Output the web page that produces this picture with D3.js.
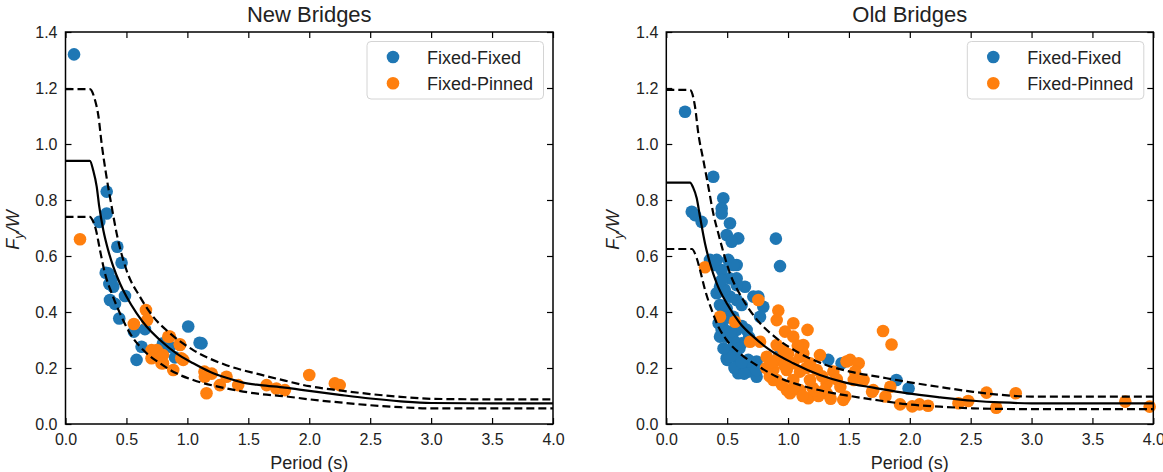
<!DOCTYPE html>
<html>
<head>
<meta charset="utf-8">
<script src="https://cdn.jsdelivr.net/npm/d3@7"></script>
<style>
  html, body { margin: 0; padding: 0; background: #fff; }
  svg { display: block; }
  text { font-family: "Liberation Sans", Arial, Helvetica, sans-serif; fill: #222; }
</style>
</head>
<body>
<svg id="chart" width="1163" height="472"></svg>
<script>
// ---------------- DATA ----------------
const xTicks = [0, 0.5, 1.0, 1.5, 2.0, 2.5, 3.0, 3.5, 4.0];
const yTicks = [0, 0.2, 0.4, 0.6, 0.8, 1.0, 1.2, 1.4];
const seriesNames = ["Fixed-Fixed", "Fixed-Pinned"];
const panelTitles = ["New Bridges", "Old Bridges"];

// New bridges — [period (s), Fy/W]
const newFixedFixed = [
  [0.07,1.32],[0.338,0.83],[0.338,0.752],[0.277,0.722],[0.425,0.633],[0.46,0.576],
  [0.351,0.538],[0.33,0.54],[0.378,0.514],[0.392,0.49],[0.36,0.5],[0.488,0.457],
  [0.365,0.443],[0.406,0.429],[0.441,0.377],[0.561,0.33],[0.652,0.339],[1.007,0.348],
  [1.116,0.288],[1.10,0.29],[0.624,0.276],[0.583,0.229],[0.857,0.276],[0.898,0.238],
  [0.80,0.288]
];
const newFixedPinned = [
  [0.119,0.66],[0.66,0.407],[0.67,0.371],[0.561,0.357],[0.843,0.312],[0.938,0.285],
  [0.706,0.264],[0.747,0.24],[0.788,0.217],[0.884,0.193],[0.966,0.229],[0.72,0.25],
  [0.75,0.264],[0.706,0.235],[0.80,0.246],[0.80,0.217],[0.95,0.235],[0.857,0.312],
  [0.94,0.282],[1.143,0.169],[1.157,0.11],[1.14,0.187],[1.20,0.18],[1.266,0.139],
  [1.321,0.169],[1.417,0.139],[1.65,0.139],[1.73,0.127],[1.80,0.121],[2.0,0.175],
  [2.21,0.145],[2.25,0.139]
];
// Old bridges
const oldFixedFixed = [
  [0.154,1.115],[0.386,0.883],[0.468,0.806],[0.455,0.77],[0.455,0.752],[0.523,0.717],
  [0.209,0.758],[0.236,0.746],[0.29,0.722],[0.496,0.675],[0.591,0.663],[0.537,0.651],
  [0.90,0.662],[0.934,0.564],[0.359,0.586],[0.40,0.568],[0.455,0.55],[0.509,0.586],
  [0.578,0.568],[0.578,0.52],[0.441,0.49],[0.646,0.49],[0.414,0.467],[0.523,0.455],
  [0.578,0.443],[0.756,0.455],[0.715,0.455],[0.441,0.425],[0.496,0.413],[0.619,0.425],
  [0.797,0.419],[0.455,0.383],[0.55,0.383],[0.77,0.383],[0.468,0.342],[0.441,0.312],
  [0.578,0.336],[0.619,0.288],[0.523,0.264],[0.496,0.235],[0.578,0.24],[0.673,0.229],
  [0.742,0.223],[0.591,0.181],[0.673,0.187],[0.742,0.169],[0.93,0.246],[1.33,0.229],
  [1.44,0.217],[1.89,0.157],[1.99,0.127],[0.5,0.229],[0.55,0.3],[0.62,0.35],
  [0.68,0.31],[0.48,0.48],[0.52,0.52],[0.455,0.514],[0.414,0.586],[0.578,0.496],
  [0.55,0.568],[0.455,0.336],[0.496,0.312],[0.66,0.336],[0.523,0.24],[0.687,0.223],
  [0.742,0.193],[0.43,0.36],[0.5,0.38],[0.53,0.33],[0.47,0.27],[0.6,0.27],
  [0.56,0.2],[0.64,0.18],[0.62,0.22]
];
const oldFixedPinned = [
  [0.318,0.56],[0.756,0.443],[0.441,0.383],[0.564,0.365],[0.92,0.405],[0.907,0.371],
  [1.043,0.36],[1.16,0.336],[0.975,0.33],[1.043,0.312],[0.688,0.294],[0.77,0.294],
  [0.907,0.282],[1.125,0.282],[0.961,0.264],[1.125,0.252],[1.262,0.246],[0.825,0.24],
  [0.907,0.229],[1.043,0.217],[1.18,0.217],[0.879,0.193],[0.989,0.193],[1.098,0.187],
  [1.235,0.193],[1.372,0.187],[1.48,0.223],[0.907,0.157],[1.043,0.157],[1.18,0.157],
  [1.317,0.145],[0.989,0.121],[1.098,0.121],[1.166,0.092],[1.30,0.121],[1.43,0.133],
  [1.47,0.098],[1.454,0.086],[1.317,0.11],[1.016,0.11],[0.879,0.157],[1.78,0.332],
  [1.85,0.284],[1.84,0.133],[1.92,0.07],[2.02,0.063],[2.08,0.07],[2.15,0.065],
  [2.40,0.074],[2.48,0.082],[2.63,0.112],[2.71,0.058],[2.87,0.11],[3.77,0.08],
  [3.97,0.062],[1.70,0.121],[1.80,0.098],[1.51,0.229],[1.58,0.217],[1.55,0.187],
  [1.54,0.157],[1.62,0.157],[1.69,0.115],[0.82,0.2],[0.85,0.17],[1.0,0.25],
  [1.2,0.13],[1.1,0.24],[0.95,0.14],[1.05,0.13],[1.12,0.1],[1.25,0.1],[1.35,0.09],
  [1.4,0.16],[0.86,0.22],[0.97,0.21],[1.15,0.2],[1.28,0.17],[1.08,0.28],[1.22,0.12]
];

// Fitted curves — [period (s), Fy/W]
const newMedian = [
  [0,0.94],[0.2,0.94],[0.228,0.905],[0.256,0.848],[0.277,0.776],[0.31,0.693],[0.35,0.621],
  [0.392,0.562],[0.447,0.502],[0.5,0.455],[0.584,0.395],[0.665,0.348],[0.775,0.3],
  [0.91,0.252],[1.048,0.217],[1.184,0.187],[1.32,0.165],[1.457,0.148],[1.6,0.139],
  [1.8,0.13],[2.0,0.118],[2.25,0.104],[2.5,0.091],[2.75,0.081],[3.0,0.075],[3.5,0.074],[4.0,0.074]
];
const newUpper = [
  [0,1.196],[0.2,1.196],[0.242,1.157],[0.27,1.1],[0.297,1.0],[0.332,0.895],[0.379,0.776],
  [0.42,0.68],[0.5,0.55],[0.61,0.455],[0.72,0.383],[0.857,0.324],[1.048,0.264],
  [1.32,0.21],[1.594,0.177],[1.8,0.155],[2.0,0.135],[2.25,0.12],[2.5,0.107],[2.75,0.097],
  [3.0,0.09],[3.5,0.088],[4.0,0.088]
];
const newLower = [
  [0,0.74],[0.2,0.74],[0.225,0.725],[0.25,0.693],[0.283,0.621],[0.324,0.538],[0.379,0.467],
  [0.447,0.395],[0.529,0.324],[0.638,0.264],[0.775,0.217],[0.91,0.181],[1.048,0.157],
  [1.32,0.127],[1.6,0.107],[1.8,0.099],[2.0,0.088],[2.25,0.077],[2.5,0.067],[2.75,0.06],
  [3.0,0.056],[3.5,0.056],[4.0,0.056]
];
const oldMedian = [
  [0,0.862],[0.195,0.862],[0.22,0.845],[0.25,0.806],[0.277,0.74],[0.318,0.645],[0.359,0.574],
  [0.414,0.502],[0.496,0.431],[0.605,0.36],[0.715,0.312],[0.852,0.264],[1.043,0.217],
  [1.262,0.175],[1.48,0.147],[1.7,0.13],[1.97,0.11],[2.25,0.095],[2.52,0.083],[2.75,0.077],
  [3.0,0.074],[3.5,0.074],[4.0,0.074]
];
const oldUpper = [
  [0,1.193],[0.195,1.193],[0.236,1.133],[0.263,1.038],[0.304,0.943],[0.345,0.848],
  [0.386,0.752],[0.427,0.681],[0.523,0.538],[0.632,0.443],[0.77,0.36],[0.907,0.306],
  [1.098,0.252],[1.317,0.21],[1.509,0.187],[1.75,0.168],[1.97,0.151],[2.25,0.132],
  [2.52,0.115],[2.75,0.104],[3.0,0.098],[3.5,0.098],[4.0,0.098]
];
const oldLower = [
  [0,0.625],[0.209,0.625],[0.25,0.592],[0.277,0.55],[0.318,0.479],[0.373,0.407],
  [0.427,0.348],[0.496,0.3],[0.605,0.252],[0.742,0.21],[0.907,0.169],[1.098,0.139],
  [1.317,0.115],[1.509,0.1],[1.75,0.084],[1.97,0.071],[2.25,0.062],[2.52,0.056],
  [3.0,0.053],[3.5,0.053],[4.0,0.053]
];

// ---------------- DRAW ----------------
const colors = ["#1f77b4", "#ff7f0e"];
const svg = d3.select("#chart");

const panels = [
  { left: 65.5, right: 553, title: panelTitles[0],
    series: [newFixedFixed, newFixedPinned], curves: [newMedian, newUpper, newLower] },
  { left: 666.3, right: 1153.3, title: panelTitles[1],
    series: [oldFixedFixed, oldFixedPinned], curves: [oldMedian, oldUpper, oldLower] }
];
const plotTop = 32, plotBottom = 424;

panels.forEach(p => {
  const x = d3.scaleLinear().domain([0, 4]).range([p.left, p.right]);
  const y = d3.scaleLinear().domain([0, 1.4]).range([plotBottom, plotTop]);
  const g = svg.append("g");

  // points
  p.series.forEach((s, i) => {
    g.append("g").selectAll("circle").data(s).join("circle")
      .attr("cx", d => x(d[0])).attr("cy", d => y(d[1]))
      .attr("r", 6.3).attr("fill", colors[i]);
  });

  // curves
  const line = d3.line().x(d => x(d[0])).y(d => y(d[1])).curve(d3.curveMonotoneX);
  p.curves.forEach((c, i) => {
    g.append("path").datum(c).attr("d", line)
      .attr("fill", "none").attr("stroke", "#000").attr("stroke-width", 2.2)
      .attr("stroke-dasharray", i === 0 ? null : "8,4");
  });

  // axes
  const fmt = d3.format(".1f");
  const styleAxis = sel => {
    sel.select(".domain").remove();
    sel.selectAll(".tick line").attr("stroke", "#000").attr("stroke-width", 1.2);
    sel.selectAll(".tick text").attr("font-size", 16).attr("fill", "#222")
      .attr("font-family", '"Liberation Sans", Arial, sans-serif');
  };
  g.append("g").attr("transform", `translate(0,${plotBottom})`)
    .call(d3.axisBottom(x).tickValues(xTicks).tickFormat(fmt).tickSizeInner(-6).tickSizeOuter(0).tickPadding(9.5))
    .call(styleAxis);
  g.append("g").attr("transform", `translate(0,${plotTop})`)
    .call(d3.axisTop(x).tickValues(xTicks).tickFormat("").tickSizeInner(-6).tickSizeOuter(0))
    .call(styleAxis);
  g.append("g").attr("transform", `translate(${p.left},0)`)
    .call(d3.axisLeft(y).tickValues(yTicks).tickFormat(fmt).tickSizeInner(-6).tickSizeOuter(0).tickPadding(8))
    .call(styleAxis);
  g.append("g").attr("transform", `translate(${p.right},0)`)
    .call(d3.axisRight(y).tickValues(yTicks).tickFormat("").tickSizeInner(-6).tickSizeOuter(0))
    .call(styleAxis);

  // frame
  g.append("rect").attr("x", p.left).attr("y", plotTop)
    .attr("width", p.right - p.left).attr("height", plotBottom - plotTop)
    .attr("fill", "none").attr("stroke", "#000").attr("stroke-width", 1.5);

  // title
  const cx = (p.left + p.right) / 2;
  g.append("text").attr("x", cx).attr("y", 21.5).attr("text-anchor", "middle")
    .attr("font-size", 22).text(p.title);

  // x label
  g.append("text").attr("x", cx).attr("y", 469).attr("text-anchor", "middle")
    .attr("font-size", 18).text("Period (s)");

  // y label
  const yl = g.append("text")
    .attr("transform", `translate(${p.left - 47},${(plotTop + plotBottom) / 2 + 2}) rotate(-90)`)
    .attr("text-anchor", "middle").attr("font-size", 18).attr("font-style", "italic");
  yl.append("tspan").text("F");
  yl.append("tspan").attr("font-size", 13).attr("dy", 4).text("y");
  yl.append("tspan").attr("dy", -4).text("/W");

  // legend
  const lx = p.right - 186, ly = plotTop + 9.5;
  const lg = g.append("g");
  lg.append("rect").attr("x", lx).attr("y", ly).attr("width", 176.5).attr("height", 57.5)
    .attr("rx", 4).attr("fill", "#fff").attr("fill-opacity", 0.8)
    .attr("stroke", "#d4d4d4").attr("stroke-width", 1);
  seriesNames.forEach((name, i) => {
    const yy = ly + 15.5 + i * 26.3;
    lg.append("circle").attr("cx", lx + 26).attr("cy", yy).attr("r", 6.3).attr("fill", colors[i]);
    lg.append("text").attr("x", lx + 60).attr("y", yy + 6.5).attr("font-size", 18).text(name);
  });
});
</script>
</body>
</html>
